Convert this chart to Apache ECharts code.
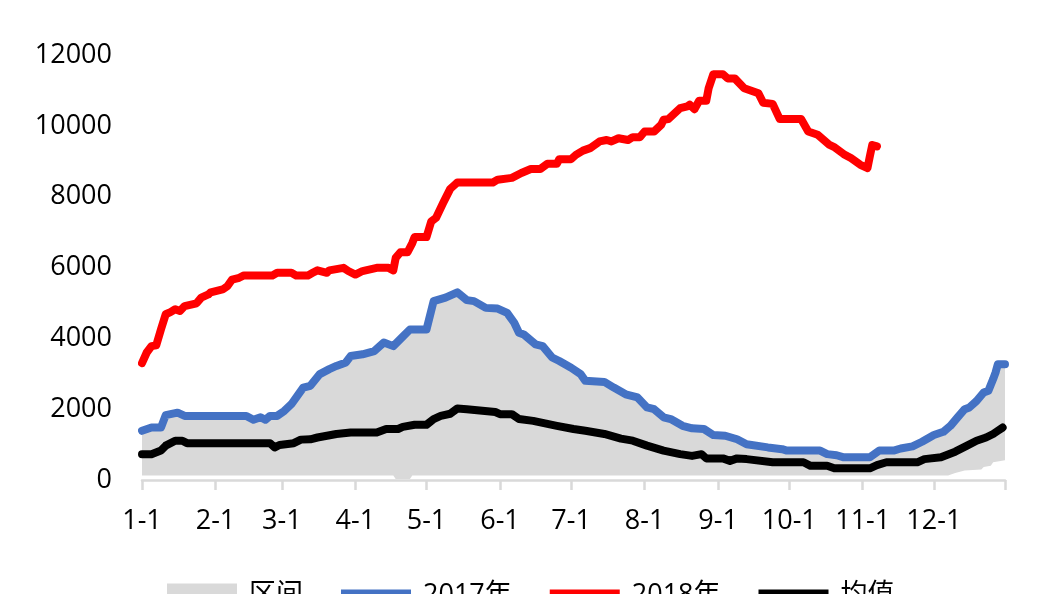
<!DOCTYPE html>
<html>
<head>
<meta charset="utf-8">
<script src="https://cdn.jsdelivr.net/npm/echarts@6/dist/echarts.min.js"></script>
<style>
html,body{margin:0;padding:0;background:#fff;}
#chart{width:1041px;height:594px;}
</style>
</head>
<body>
<div id="chart"></div>
<script>
// x = day of year (0 = 1-1)
const monthStarts = [0, 31, 59, 90, 120, 151, 181, 212, 243, 273, 304, 334];
const monthLabels = ['1-1','2-1','3-1','4-1','5-1','6-1','7-1','8-1','9-1','10-1','11-1','12-1'];
const yTicks = [0, 2000, 4000, 6000, 8000, 10000, 12000];

const seriesNames = ['区间', '2017年', '2018年', '均值'];

const s2018 = [[0,3300],[2,3600],[4,3780],[6,3800],[8,4250],[10,4680],[12,4740],[14,4820],[16,4770],[18,4910],[23,4990],[25,5150],[28,5240],[29,5300],[34,5380],[36,5470],[38,5660],[41,5710],[43,5775],[55,5775],[57,5850],[63,5850],[65,5775],[70,5775],[72,5850],[74,5920],[78,5850],[79,5920],[85,5990],[87,5900],[90,5800],[93,5900],[99,5990],[104,5990],[106,5920],[107,6270],[109,6430],[112,6430],[114,6690],[115,6860],[120,6860],[122,7300],[124,7400],[127,7820],[130,8220],[132,8340],[133,8400],[148,8400],[150,8480],[156,8530],[160,8670],[164,8780],[168,8780],[171,8930],[175,8930],[176,9060],[181,9060],[183,9180],[186,9300],[189,9370],[193,9560],[196,9600],[198,9560],[201,9650],[205,9600],[207,9680],[210,9680],[212,9840],[216,9840],[219,10030],[220,10170],[222,10190],[227,10500],[230,10550],[231,10600],[233,10470],[235,10710],[238,10710],[239,11060],[241,11460],[245,11460],[247,11340],[250,11340],[254,11060],[257,10990],[260,10920],[262,10650],[266,10620],[269,10190],[278,10190],[281,9840],[285,9750],[290,9460],[292,9400],[296,9200],[299,9090],[303,8900],[306,8810],[307,9140],[308,9460],[310,9420]];

const s2017 = [[0,1390],[4,1480],[8,1480],[10,1830],[15,1900],[18,1810],[44,1810],[47,1700],[50,1770],[52,1700],[54,1810],[57,1810],[60,1950],[63,2140],[68,2610],[71,2660],[75,2990],[79,3130],[82,3220],[86,3320],[88,3500],[93,3550],[98,3640],[102,3880],[106,3780],[110,4050],[113,4250],[120,4250],[123,5050],[128,5150],[133,5300],[137,5080],[140,5050],[145,4860],[150,4840],[154,4720],[157,4440],[159,4160],[161,4110],[166,3830],[169,3780],[173,3460],[176,3360],[181,3170],[185,2990],[187,2800],[195,2770],[199,2610],[204,2420],[209,2330],[213,2050],[216,2000],[220,1770],[223,1720],[228,1530],[232,1460],[237,1440],[241,1270],[246,1250],[251,1150],[255,1010],[264,920],[270,870],[272,830],[286,830],[289,730],[293,700],[296,640],[307,640],[311,830],[317,830],[320,890],[325,950],[329,1080],[334,1270],[338,1360],[341,1530],[344,1770],[347,2000],[349,2050],[352,2230],[355,2470],[357,2520],[359,2850],[360,3030],[361,3270],[364,3270]];

const sMean = [[0,730],[4,730],[8,830],[10,970],[14,1110],[17,1110],[19,1040],[54,1040],[56,920],[58,990],[64,1040],[67,1140],[71,1150],[74,1200],[78,1250],[82,1300],[88,1340],[99,1340],[103,1440],[108,1440],[110,1500],[115,1560],[120,1560],[123,1720],[126,1810],[130,1870],[133,2020],[137,2000],[149,1920],[151,1860],[156,1860],[159,1720],[165,1670],[175,1530],[182,1440],[187,1390],[195,1300],[202,1170],[207,1110],[213,970],[220,830],[227,730],[232,680],[236,730],[238,610],[245,610],[248,540],[251,610],[255,590],[266,500],[279,500],[282,400],[289,400],[292,330],[307,330],[310,420],[314,500],[327,500],[330,590],[337,640],[343,800],[348,970],[352,1110],[356,1200],[359,1300],[361,1390],[363,1480]];

// range band: upper = 2017 line, lower bound below
const bandLower = [[0,130],[106,130],[107,30],[113,30],[114,130],[340,130],[343,200],[347,270],[354,300],[355,370],[358,400],[359,500],[364,560]];

const FONT = "'Open Sans', 'Noto Sans CJK SC', sans-serif";
const chart = echarts.init(document.getElementById('chart'));

function lineSeries(name, data, color) {
  return {
    name: name, type: 'line', data: data, symbol: 'none', z: 4,
    lineStyle: { color: color, width: 8, cap: 'round', join: 'round' },
    itemStyle: { color: color },
    emphasis: { disabled: true }
  };
}
// thick bar in a full-height box (tiny corner marks keep the box size)
const barIcon = 'path://M0,0L0.01,0L0,0.01ZM0,6H70V16H0ZM70,24L69.99,24L70,23.99Z';

chart.setOption({
  animation: false,
  backgroundColor: '#fff',
  grid: { left: 142, right: 36, top: 55, bottom: 114, containLabel: false },
  legend: {
    top: 577, left: 162,
    itemWidth: 70, itemHeight: 24, itemGap: 38,
    textStyle: { fontSize: 27, fontFamily: FONT, color: '#000', padding: [0, 0, 0, 7] },
    data: [
      { name: seriesNames[0], icon: 'rect', itemStyle: { color: '#d9d9d9' } },
      { name: seriesNames[1], icon: barIcon, itemStyle: { color: '#4472c4' } },
      { name: seriesNames[2], icon: barIcon, itemStyle: { color: '#ff0000' } },
      { name: seriesNames[3], icon: barIcon, itemStyle: { color: '#000000' } }
    ]
  },
  xAxis: {
    type: 'value', min: 0, max: 364, z: 5,
    axisLine: { show: true, lineStyle: { color: '#d9d9d9', width: 2.5 } },
    axisTick: { show: true, customValues: monthStarts.concat([364]), length: 10, lineStyle: { color: '#d9d9d9', width: 2.5 } },
    axisLabel: {
      customValues: monthStarts,
      formatter: function (v) { const i = monthStarts.indexOf(v); return i >= 0 ? monthLabels[i] : ''; },
      fontSize: 27, fontFamily: FONT, color: '#000', margin: 28
    },
    splitLine: { show: false }
  },
  yAxis: {
    type: 'value', min: yTicks[0], max: yTicks[yTicks.length - 1], interval: 2000,
    axisLine: { show: false }, axisTick: { show: false }, splitLine: { show: false },
    axisLabel: { fontSize: 27, fontFamily: FONT, color: '#000', margin: 30, formatter: function (v) { return String(v); } }
  },
  series: [
    {
      name: seriesNames[0], type: 'line', data: s2017, symbol: 'none', z: 1,
      lineStyle: { width: 0, opacity: 0 }, itemStyle: { color: '#d9d9d9' },
      areaStyle: { color: '#d9d9d9', opacity: 1 }, emphasis: { disabled: true }
    },
    {
      name: 'bandLower', type: 'line', data: bandLower, symbol: 'none', z: 2,
      lineStyle: { width: 0, opacity: 0 }, itemStyle: { color: '#fff' },
      areaStyle: { color: '#ffffff', opacity: 1 }, emphasis: { disabled: true }
    },
    lineSeries(seriesNames[3], sMean, '#000000'),
    lineSeries(seriesNames[1], s2017, '#4472c4'),
    lineSeries(seriesNames[2], s2018, '#ff0000')
  ]
});
</script>
</body>
</html>
